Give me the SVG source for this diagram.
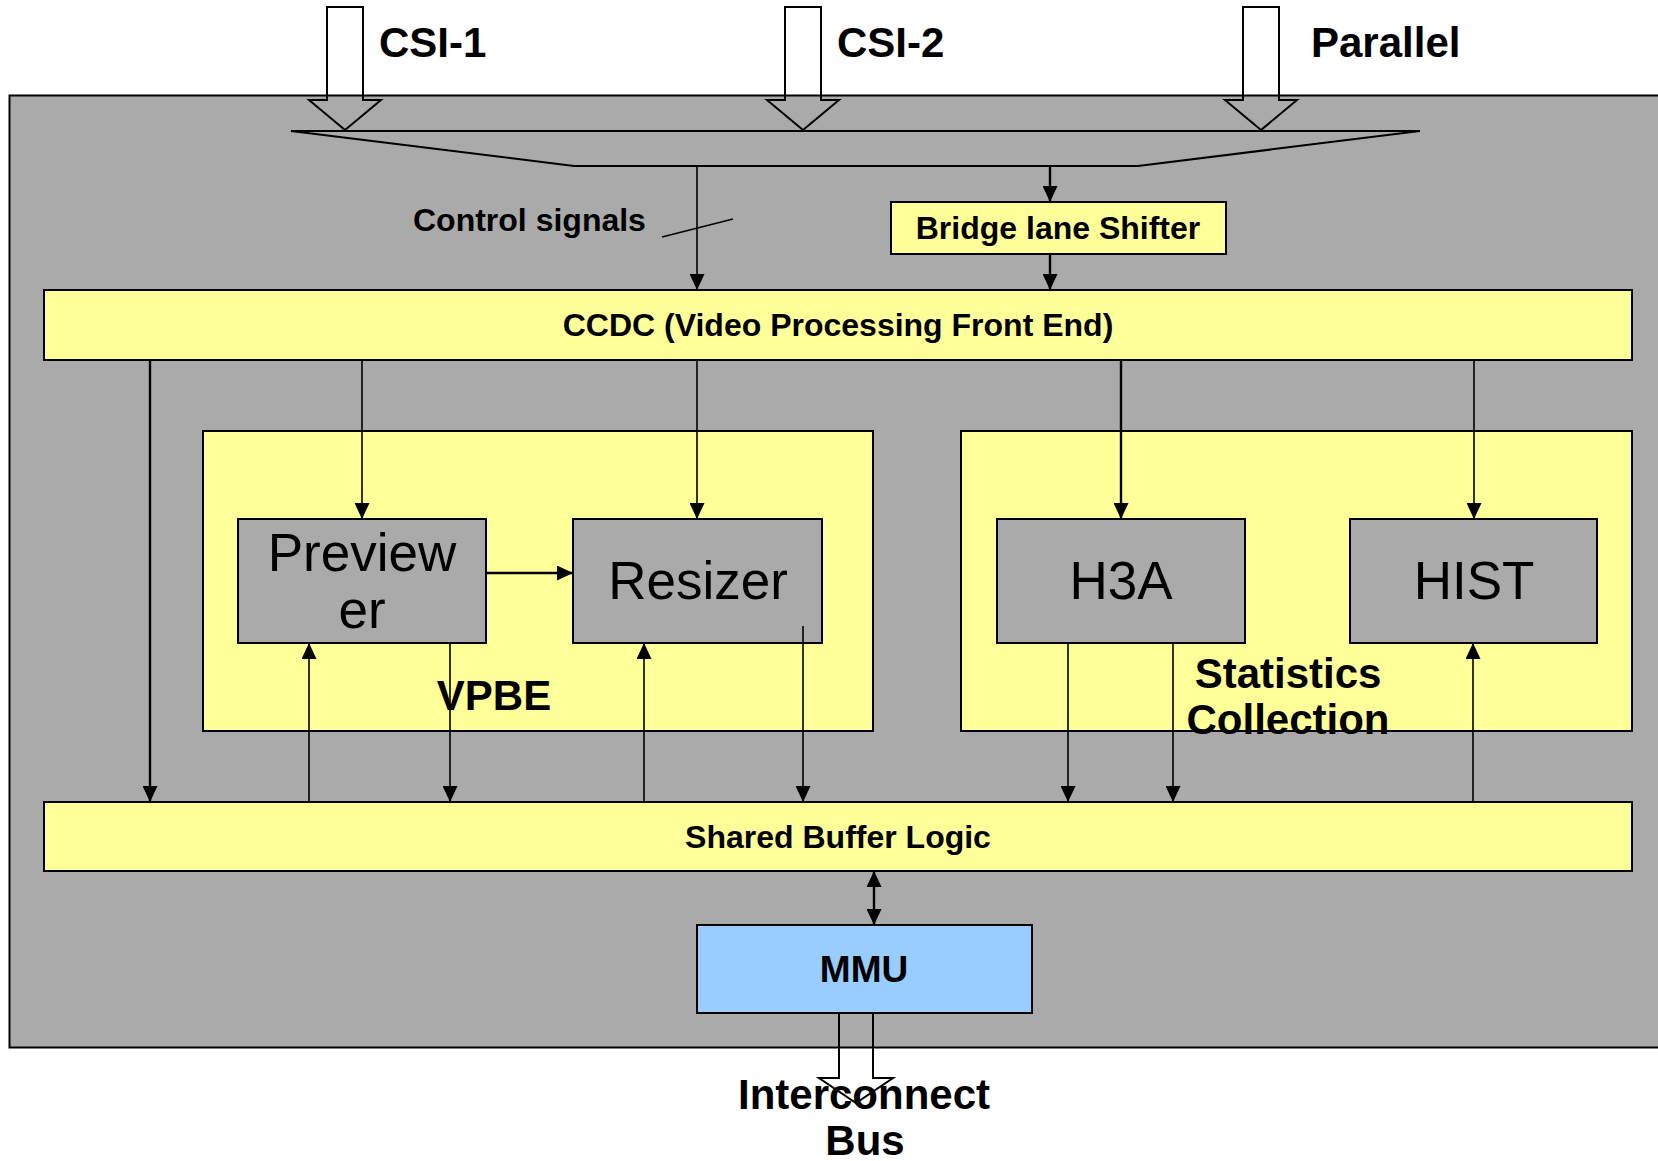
<svg xmlns="http://www.w3.org/2000/svg" width="1658" height="1161" viewBox="0 0 1658 1161">
  <style>
    text { font-family: "Liberation Sans", Arial, sans-serif; fill: #000; }
    .b { font-weight: bold; }
    .t32 { font-size: 32px; }
    .t42 { font-size: 42px; }
    .t53 { font-size: 53px; }
    .yellow { fill: #ffff99; stroke: #000; stroke-width: 2; }
    .grey { fill: #aaaaaa; stroke: #000; stroke-width: 2; }
    .blue { fill: #99ccff; stroke: #000; stroke-width: 2; }
    .hollow { fill: none; stroke: #000; stroke-width: 2; }
    .wire { fill: none; stroke: #000; stroke-width: 1.6; }
    .wire2 { fill: none; stroke: #000; stroke-width: 2.4; }
  </style>
  <defs>
    <marker id="ah" markerUnits="userSpaceOnUse" markerWidth="17" markerHeight="15" refX="16" refY="7.5" orient="auto-start-reverse">
      <path d="M0,0 L16,7.5 L0,15 z" fill="#000"/>
    </marker>
  </defs>

  <rect width="1658" height="1161" fill="#fff"/>

  <!-- camera subsystem body -->
  <g id="subsystem">
    <rect class="grey" x="9.5" y="95.5" width="1660" height="952"/>
  </g>

  <!-- input ports -->
  <g id="input-csi1">
    <polygon class="hollow" points="327,7 363,7 363,100 381,100 345,130 309,100 327,100"/>
    <text class="b t42" x="379" y="57">CSI-1</text>
  </g>
  <g id="input-csi2">
    <polygon class="hollow" points="785,7 821,7 821,100 839,100 803,130 767,100 785,100"/>
    <text class="b t42" x="837" y="57">CSI-2</text>
  </g>
  <g id="input-parallel">
    <polygon class="hollow" points="1243,7 1279,7 1279,100 1297,100 1261,130 1225,100 1243,100"/>
    <text class="b t42" x="1311" y="57">Parallel</text>
  </g>

  <!-- input mux -->
  <g id="mux">
    <polygon class="hollow" points="291,131 1420,131 1138,166 574,166"/>
  </g>

  <g id="control-label">
    <text class="b t32" x="413" y="231">Control signals</text>
  </g>

  <g id="bridge">
    <rect class="yellow" x="891" y="202" width="335" height="52"/>
    <text class="b t32" x="1058" y="239" text-anchor="middle">Bridge lane Shifter</text>
  </g>

  <g id="ccdc">
    <rect class="yellow" x="44" y="290" width="1588" height="70"/>
    <text class="b t32" x="838" y="336" text-anchor="middle">CCDC (Video Processing Front End)</text>
  </g>

  <g id="vpbe">
    <rect class="yellow" x="203" y="431" width="670" height="300"/>
    <text class="b t42" x="494" y="710" text-anchor="middle">VPBE</text>
  </g>

  <g id="stats">
    <rect class="yellow" x="961" y="431" width="671" height="300"/>
    <text class="b t42" x="1288" y="688" text-anchor="middle">Statistics</text>
    <text class="b t42" x="1288" y="734" text-anchor="middle">Collection</text>
  </g>

  <g id="previewer">
    <rect class="grey" x="238" y="519" width="248" height="124"/>
    <text class="t53" x="362" y="571" text-anchor="middle">Preview</text>
    <text class="t53" x="362" y="628" text-anchor="middle">er</text>
  </g>

  <g id="resizer">
    <rect class="grey" x="573" y="519" width="249" height="124"/>
    <text class="t53" x="698" y="599" text-anchor="middle">Resizer</text>
  </g>

  <g id="h3a">
    <rect class="grey" x="997" y="519" width="248" height="124"/>
    <text class="t53" x="1121" y="599" text-anchor="middle">H3A</text>
  </g>

  <g id="hist">
    <rect class="grey" x="1350" y="519" width="247" height="124"/>
    <text class="t53" x="1474" y="599" text-anchor="middle">HIST</text>
  </g>

  <g id="shared-buffer">
    <rect class="yellow" x="44" y="802" width="1588" height="69"/>
    <text class="b t32" x="838" y="848" text-anchor="middle">Shared Buffer Logic</text>
  </g>

  <g id="mmu">
    <rect class="blue" x="697" y="925" width="335" height="88"/>
    <text class="b" x="864" y="982" font-size="37" text-anchor="middle">MMU</text>
  </g>

  <!-- connectors -->
  <g id="connectors">
    <line class="wire" x1="697" y1="166" x2="697" y2="290" marker-end="url(#ah)"/>
    <line class="wire" x1="662" y1="237" x2="733" y2="219"/>
    <line class="wire2" x1="1050" y1="166" x2="1050" y2="202" marker-end="url(#ah)"/>
    <line class="wire2" x1="1050" y1="254" x2="1050" y2="290" marker-end="url(#ah)"/>

    <line class="wire2" x1="150" y1="360" x2="150" y2="802" marker-end="url(#ah)"/>
    <line class="wire" x1="362" y1="360" x2="362" y2="519" marker-end="url(#ah)"/>
    <line class="wire" x1="697" y1="360" x2="697" y2="519" marker-end="url(#ah)"/>
    <line class="wire2" x1="1121" y1="360" x2="1121" y2="519" marker-end="url(#ah)"/>
    <line class="wire" x1="1474" y1="360" x2="1474" y2="519" marker-end="url(#ah)"/>

    <line class="wire2" x1="486" y1="573" x2="573" y2="573" marker-end="url(#ah)"/>

    <line class="wire" x1="309" y1="802" x2="309" y2="643" marker-end="url(#ah)"/>
    <line class="wire" x1="450" y1="643" x2="450" y2="802" marker-end="url(#ah)"/>
    <line class="wire" x1="644" y1="802" x2="644" y2="643" marker-end="url(#ah)"/>
    <line class="wire" x1="803" y1="626" x2="803" y2="802" marker-end="url(#ah)"/>
    <line class="wire" x1="1068" y1="643" x2="1068" y2="802" marker-end="url(#ah)"/>
    <line class="wire" x1="1173" y1="643" x2="1173" y2="802" marker-end="url(#ah)"/>
    <line class="wire" x1="1473" y1="802" x2="1473" y2="643" marker-end="url(#ah)"/>

    <line class="wire2" x1="874" y1="871" x2="874" y2="925" marker-start="url(#ah)" marker-end="url(#ah)"/>
  </g>

  <!-- output port -->
  <g id="output-bus">
    <polygon class="hollow" points="839,1013 873,1013 873,1078 893,1078 856,1103 819,1078 839,1078"/>
    <text class="b t42" x="864" y="1109" text-anchor="middle">Interconnect</text>
    <text class="b t42" x="865" y="1155" text-anchor="middle">Bus</text>
  </g>
</svg>
